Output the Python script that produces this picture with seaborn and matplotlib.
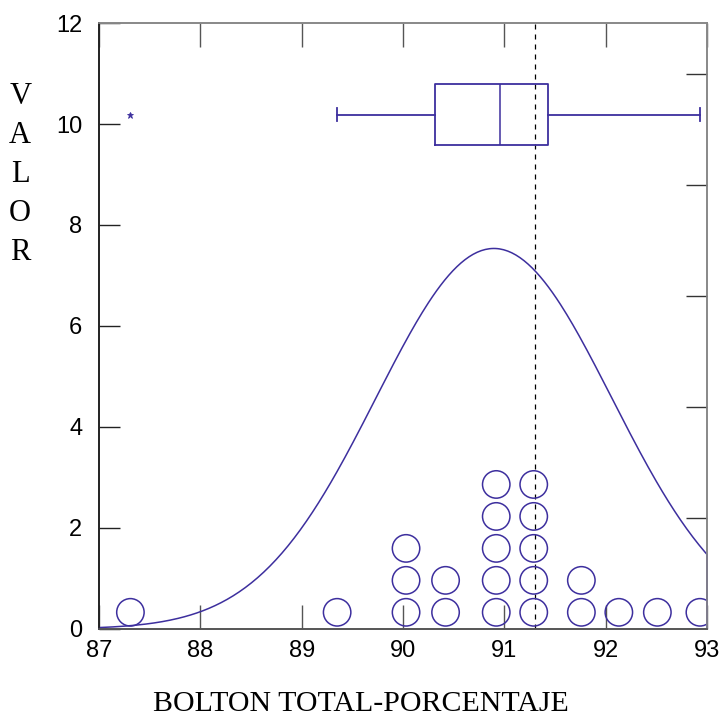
import numpy as np
import pandas as pd
import matplotlib
matplotlib.use("Agg")
import matplotlib.pyplot as plt
import seaborn as sns

# valores (dot plot: posicion de la columna y numero de puntos)
valores_x = [87.31, 89.35, 90.03, 90.42, 90.92, 91.29, 91.76, 92.13, 92.51, 92.93]
conteos = [1, 1, 3, 2, 5, 5, 2, 1, 1, 1]

# estadisticos del diagrama de caja
caja_q1 = 90.32
caja_mediana = 90.96
caja_q3 = 91.43
bigote_inf = 89.35
bigote_sup = 92.93
atipicos = [87.31]

linea_ref = 91.30
proporciones_der = [0.1, 0.2, 0.3, 0.4, 0.5]
ticks_x = [87, 88, 89, 90, 91, 92, 93]
ticks_y = [0, 2, 4, 6, 8, 10, 12]

color = "#3d2f9e"

# expandir los puntos apilados
filas = []
for x, n in zip(valores_x, conteos):
    for k in range(n):
        filas.append({"x": x, "nivel": k})
df = pd.DataFrame(filas)
df["y"] = 0.33 + 0.633 * df["nivel"]
N = len(df)

# curva normal ajustada a los datos (escala de conteo, ancho 1)
media = df["x"].mean()
desv = df["x"].std()
xs = np.linspace(87, 93, 300)
ys = N / (desv * np.sqrt(2 * np.pi)) * np.exp(-0.5 * ((xs - media) / desv) ** 2)
curva = pd.DataFrame({"x": np.r_[87, xs, 93], "y": np.r_[0, ys, 0]})

fig = plt.figure(figsize=(7.21, 7.19), dpi=100)
ax = fig.add_axes([0.1373, 0.1252, 0.8433, 0.8428])

sns.lineplot(data=curva, x="x", y="y", ax=ax, color=color, lw=1.1, sort=False,
             estimator=None, zorder=4, clip_on=False)
sns.scatterplot(data=df, x="x", y="y", ax=ax, s=390, marker="o",
                facecolor="none", edgecolor=color, linewidth=1.1, zorder=3)

ax.bxp([{"med": caja_mediana, "q1": caja_q1, "q3": caja_q3,
         "whislo": bigote_inf, "whishi": bigote_sup, "fliers": atipicos}],
       positions=[10.18], widths=1.21, capwidths=0.26, orientation="horizontal",
       boxprops=dict(color=color, lw=1.3), medianprops=dict(color=color, lw=1.1),
       whiskerprops=dict(color=color, lw=1.3), capprops=dict(color=color, lw=1.3),
       flierprops=dict(marker="*", markersize=5, markeredgecolor=color,
                       markerfacecolor=color, markeredgewidth=0.6))

ax.axvline(linea_ref, color="black", lw=0.9, ls=(0, (4, 4)), zorder=1)

ax.set_xlim(87, 93)
ax.set_ylim(0, 12)
ax.set_xticks(ticks_x)
ax.set_yticks(ticks_y)
ax.set_xticklabels([str(t) for t in ticks_x])
ax.set_yticklabels([str(t) for t in ticks_y])
ax.set_xlabel("")
ax.set_ylabel("")
ax.tick_params(axis="x", direction="in", length=17, width=1, top=True,
               colors="#555555", labelcolor="black", labelsize=17, pad=8)
ax.tick_params(axis="y", direction="in", length=15, width=1, left=True, right=False,
               colors="#222222", labelcolor="black", labelsize=17, pad=12)
for lab in ax.get_xticklabels() + ax.get_yticklabels():
    lab.set_family("Liberation Sans")

ax2 = ax.twinx()
ax2.set_ylim(0, 12)
ax2.set_yticks([p * N for p in proporciones_der])
ax2.set_yticklabels([])
ax2.tick_params(axis="y", direction="in", length=15, width=1, colors="#333333")

for a in (ax, ax2):
    a.spines["left"].set_color("#222222")
    a.spines["bottom"].set_color("#555555")
    a.spines["top"].set_color("#888888")
    a.spines["right"].set_color("#888888")
    for s in a.spines.values():
        s.set_linewidth(1.2)
        s.set_zorder(2)

fig.text(0.5, 0.021, "BOLTON TOTAL-PORCENTAJE", ha="center", va="center",
         family="Liberation Serif", fontsize=21.5)
fig.text(0.028, 0.757, "V\nA\nL\nO\nR", ha="center", va="center",
         family="Liberation Serif", fontsize=22, linespacing=1.45)

fig.savefig("out.png", dpi=100)
